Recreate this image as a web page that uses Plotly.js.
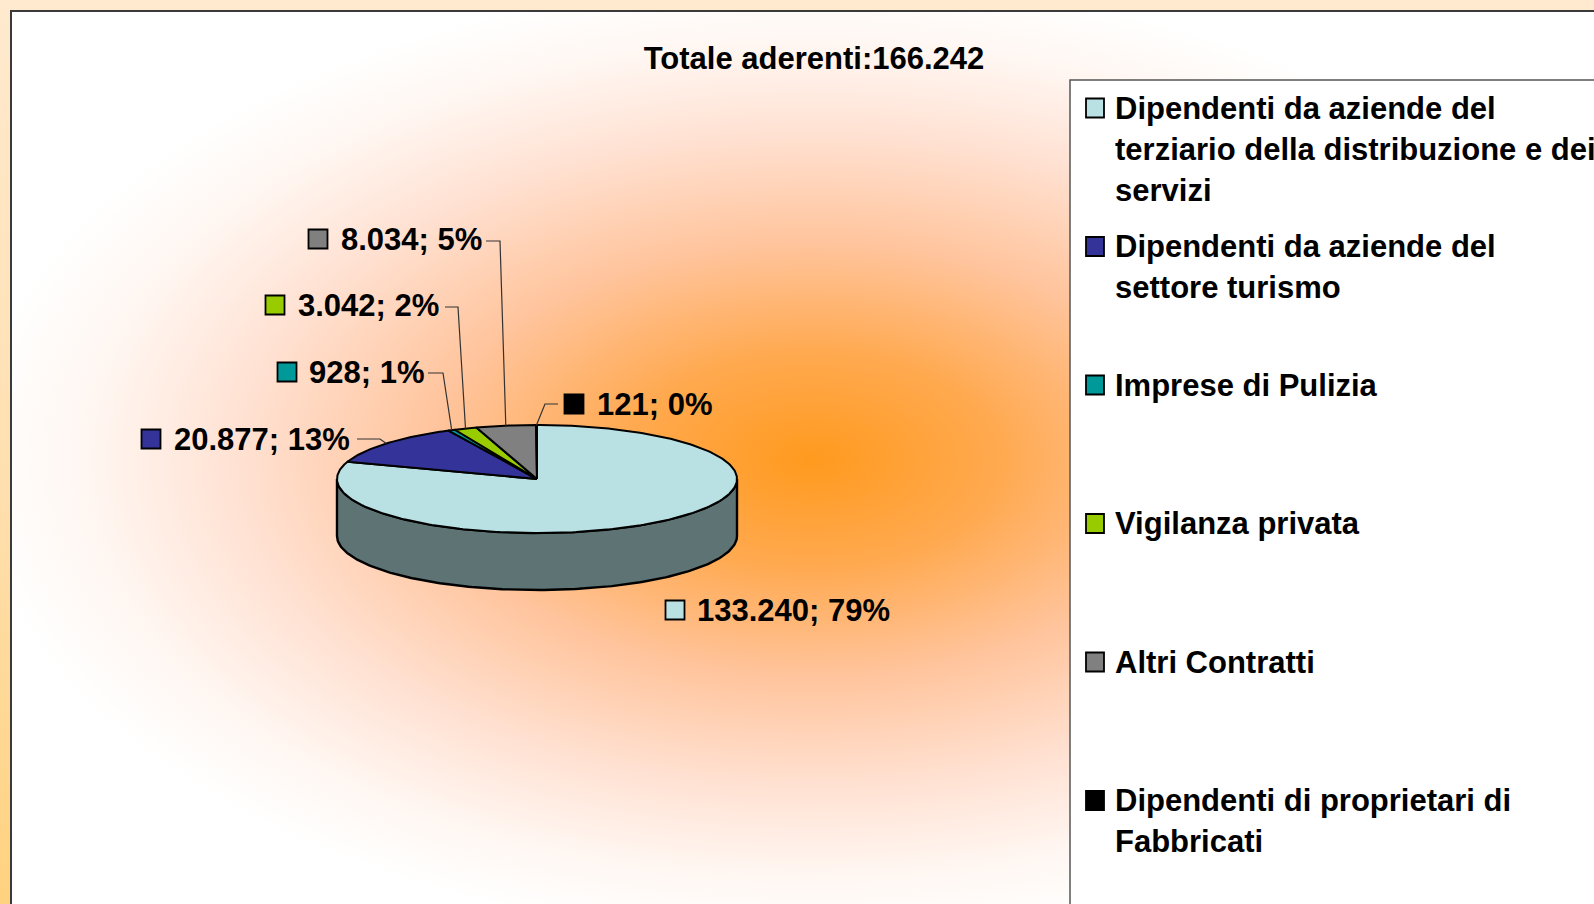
<!DOCTYPE html>
<html><head><meta charset="utf-8">
<script src="https://cdn.plot.ly/plotly-3.0.1.min.js"></script>
<style>
html,body{margin:0;padding:0;width:1594px;height:904px;overflow:hidden;}
body{background:linear-gradient(to bottom,#ffeacf 0%,#ffdfae 55%,#ffd27f 100%);}
#frame{position:absolute;left:10px;top:10px;width:1700px;height:1000px;border-left:2px solid #3a3a3a;border-top:2px solid #3a3a3a;
background:radial-gradient(ellipse 840px 480px at 800px 448px,#ff9a1e 0%,#ffa94f 22%,#ffc49c 45%,#ffe1d2 68%,#fff6f1 86%,#ffffff 100%);}
#chart{position:absolute;left:0;top:0;width:1594px;height:904px;}
</style></head>
<body><div id="frame"></div><div id="chart"></div>
<script>
// ---------- data ----------
const categories = [
  'Dipendenti da aziende del\nterziario della distribuzione e dei\nservizi',
  'Dipendenti da aziende del\nsettore turismo',
  'Imprese di Pulizia',
  'Vigilanza privata',
  'Altri Contratti',
  'Dipendenti di proprietari di\nFabbricati'
];
const values = [133240, 20877, 928, 3042, 8034, 121];
const percentLabels = [79, 13, 1, 2, 5, 0];
const colors = ['#b9e1e4', '#333399', '#009999', '#99cc00', '#808080', '#000000'];
const titlePrefix = 'Totale aderenti:';

// ---------- layout / geometry (positions, not data) ----------
const G = {cx: 537, cy: 479, rx: 200, ry: 54, depth: 57};
const labelPos = [
  {sx: 675, sy: 610, tx: 695, ty: 610, line: null},
  {sx: 151, sy: 439, tx: 172, ty: 439, line: {x0: 357, x1: 380, y: 439}},
  {sx: 287, sy: 372, tx: 307, ty: 372, line: {x0: 428, x1: 443, y: 373}},
  {sx: 275, sy: 305, tx: 296, ty: 305, line: {x0: 445, x1: 458, y: 307}},
  {sx: 318, sy: 239, tx: 339, ty: 239, line: {x0: 486, x1: 500, y: 241}},
  {sx: 574, sy: 404, tx: 595, ty: 404, line: {x0: 558, x1: 545, y: 404}}
];
const FONT = {family: 'Liberation Sans, Arial, sans-serif', size: 31, color: '#000', weight: 700};

function fmt(n){ return String(n).replace(/\B(?=(\d{3})+(?!\d))/g, '.'); }
function darken(hex, f){
  const n = parseInt(hex.slice(1), 16);
  const r = Math.round(((n>>16)&255)*f), g = Math.round(((n>>8)&255)*f), b = Math.round((n&255)*f);
  return 'rgb(' + r + ',' + g + ',' + b + ')';
}
function pt(deg, dy){
  const a = deg*Math.PI/180;
  return [G.cx + G.rx*Math.sin(a), G.cy - G.ry*Math.cos(a) + dy];
}
function arc(a, b, dy){
  const out = [];
  const n = Math.max(2, Math.ceil(Math.abs(b-a)));
  for (let i = 0; i <= n; i++) out.push(pt(a + (b-a)*i/n, dy));
  return out;
}

const total = values.reduce((s, v) => s + v, 0);
const starts = [], ends = [];
let acc = 0;
values.forEach(v => { starts.push(acc/total*360); acc += v; ends.push(acc/total*360); });

const traces = [];
// sides (front half only: 90..270 deg)
values.forEach((v, i) => {
  const a = Math.max(starts[i], 90), b = Math.min(ends[i], 270);
  if (b <= a) return;
  const top = arc(a, b, 0), bot = arc(b, a, G.depth);
  const poly = top.concat(bot); poly.push(top[0]);
  traces.push({type: 'scatter', mode: 'lines', x: poly.map(p => p[0]), y: poly.map(p => p[1]),
    fill: 'toself', fillcolor: darken(colors[i], 0.51), line: {color: '#000', width: 2.4},
    hoverinfo: 'skip', showlegend: false});
});
// top faces
values.forEach((v, i) => {
  const poly = [[G.cx, G.cy]].concat(arc(starts[i], ends[i], 0)); poly.push([G.cx, G.cy]);
  traces.push({type: 'scatter', mode: 'lines', x: poly.map(p => p[0]), y: poly.map(p => p[1]),
    fill: 'toself', fillcolor: colors[i], line: {color: '#000', width: 2},
    hoverinfo: 'skip', showlegend: false});
});

const shapes = [], annotations = [];
// legend box
shapes.push({type: 'rect', xref: 'x', yref: 'y', x0: 1070, y0: 80, x1: 1700, y1: 1000,
  fillcolor: '#ffffff', line: {color: '#555', width: 1.5}, layer: 'below'});
// data labels
values.forEach((v, i) => {
  const L = labelPos[i];
  shapes.push({type: 'rect', x0: L.sx-9.5, x1: L.sx+9.5, y0: L.sy-9.5, y1: L.sy+9.5,
    fillcolor: colors[i], line: {color: '#000', width: 1.8}});
  annotations.push({x: L.tx, y: L.ty, xref: 'x', yref: 'y', xanchor: 'left', yanchor: 'middle',
    text: fmt(v) + '; ' + percentLabels[i] + '%', showarrow: false, font: FONT});
  if (L.line){
    const mid = (starts[i] + ends[i]) / 2;
    const p = pt(mid, 0);
    shapes.push({type: 'path', path: 'M' + L.line.x0 + ',' + L.line.y + ' L' + L.line.x1 + ',' + L.line.y + ' L' + p[0].toFixed(1) + ',' + p[1].toFixed(1),
      line: {color: '#333', width: 1.2}});
  }
});
// legend entries
categories.forEach((c, i) => {
  const y0 = 108 + 138.5*i;
  shapes.push({type: 'rect', x0: 1086, x1: 1104, y0: y0-9.5, y1: y0+9.5,
    fillcolor: colors[i], line: {color: '#000', width: 1.8}});
  c.split('\n').forEach((line, j) => {
    annotations.push({x: 1113, y: y0 + 41*j, xref: 'x', yref: 'y', xanchor: 'left', yanchor: 'middle',
      text: line, showarrow: false, font: FONT});
  });
});

const layout = {
  width: 1594, height: 904,
  margin: {l: 0, r: 0, t: 0, b: 0, pad: 0},
  paper_bgcolor: 'rgba(0,0,0,0)', plot_bgcolor: 'rgba(0,0,0,0)',
  title: {text: titlePrefix + fmt(total), x: 814/1594, y: 1 - 58/904, xanchor: 'center', yanchor: 'middle',
    font: FONT},
  xaxis: {range: [0, 1594], visible: false, fixedrange: true},
  yaxis: {range: [904, 0], visible: false, fixedrange: true},
  showlegend: false,
  shapes: shapes,
  annotations: annotations
};
Plotly.newPlot('chart', traces, layout, {staticPlot: true, displayModeBar: false});
</script>
</body></html>
